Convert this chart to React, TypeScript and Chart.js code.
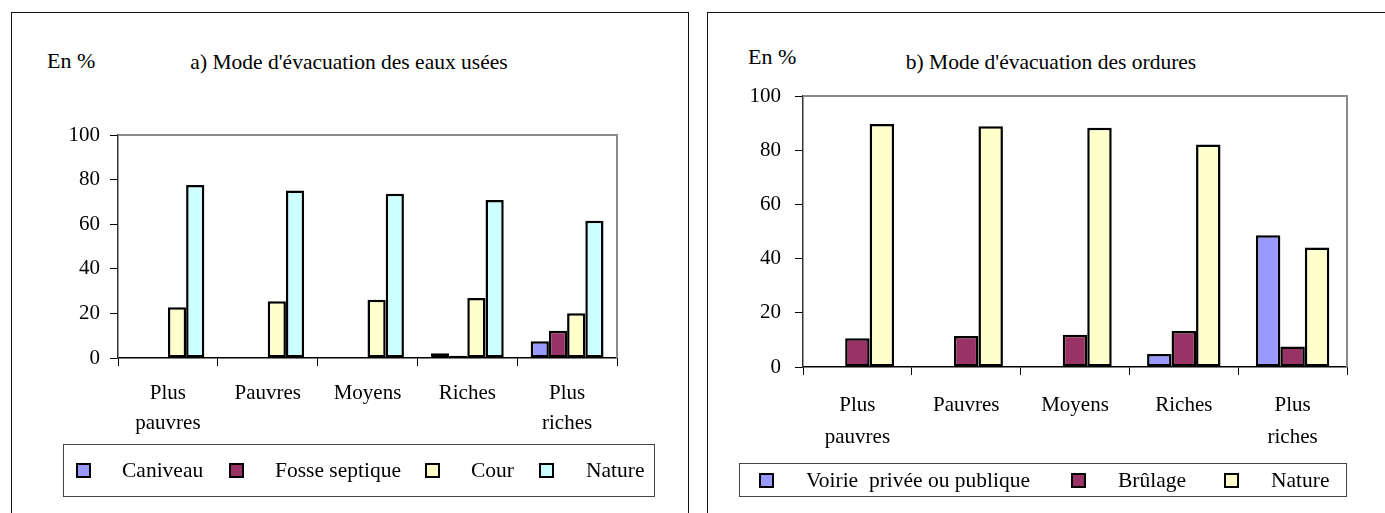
import React, { useEffect, useRef } from "react";
import { Chart, registerables } from "chart.js";

Chart.register(...registerables);

// ---------- data ----------
const categories: (string | string[])[] = [["Plus", "pauvres"], "Pauvres", "Moyens", "Riches", ["Plus", "riches"]];

// a) Mode d'évacuation des eaux usées (en %)
const caniveau = [0, 0.3, 0.3, 2.1, 7.5];
const fosseSeptique = [0, 0, 0.3, 1.0, 12.2];
const cour = [22.8, 25.4, 26.1, 26.9, 20.1];
const natureEaux = [77.6, 75.1, 73.6, 70.9, 61.5];

// b) Mode d'évacuation des ordures (en %)
const voirie = [0, 0, 0.3, 4.8, 48.6];
const brulage = [10.6, 11.4, 11.9, 13.3, 7.6];
const natureOrdures = [89.7, 88.8, 88.3, 82.1, 44.1];

const yMin = 0;
const yMax = 100;
const yStep = 20;

const titleA = "a) Mode d'évacuation des eaux usées";
const titleB = "b) Mode d'évacuation des ordures";
const unitLabel = "En %";

const BLUE = "#9999FF";
const MAROON = "#993366";
const YELLOW = "#FFFFCC";
const CYAN = "#CCFFFF";

const seriesA = [
  { label: "Caniveau", data: caniveau, color: BLUE },
  { label: "Fosse septique", data: fosseSeptique, color: MAROON },
  { label: "Cour", data: cour, color: YELLOW },
  { label: "Nature", data: natureEaux, color: CYAN },
];
const seriesB = [
  { label: "Voirie  privée ou publique", data: voirie, color: BLUE },
  { label: "Brûlage", data: brulage, color: MAROON },
  { label: "Nature", data: natureOrdures, color: YELLOW },
];

const FONT = "'Liberation Serif', 'Times New Roman', serif";

const plotFrame = {
  id: "plotFrame",
  afterDraw(chart: any) {
    const { ctx, chartArea } = chart;
    ctx.save();
    ctx.strokeStyle = "#8a8a8a";
    ctx.lineWidth = 2;
    ctx.beginPath();
    ctx.moveTo(chartArea.left, chartArea.top);
    ctx.lineTo(chartArea.right, chartArea.top);
    ctx.lineTo(chartArea.right, chartArea.bottom);
    ctx.stroke();
    ctx.restore();
  },
};

type Series = { label: string; data: number[]; color: string };

function BarChart(props: {
  series: Series[];
  width: number;
  height: number;
  left: number;
  padding: { left: number; right: number; top: number; bottom: number };
  catPct: number;
  yPad: number;
  xPad: number;
  xLineHeight: number;
}) {
  const ref = useRef<HTMLCanvasElement | null>(null);
  useEffect(() => {
    if (!ref.current) return;
    const chart = new Chart(ref.current, {
      type: "bar",
      data: {
        labels: categories,
        datasets: props.series.map((s) => ({
          label: s.label,
          data: s.data,
          backgroundColor: s.color,
          borderColor: "#000",
          borderWidth: 2.5,
          borderSkipped: false,
          categoryPercentage: props.catPct,
          barPercentage: 1,
        })),
      },
      options: {
        responsive: false,
        animation: false,
        devicePixelRatio: 1,
        layout: { padding: props.padding },
        plugins: { legend: { display: false }, title: { display: false }, tooltip: { enabled: false } },
        scales: {
          x: {
            grid: { display: true, drawOnChartArea: false, drawTicks: true, tickLength: 8, color: "#000", lineWidth: 1, offset: true },
            border: { display: true, color: "#000", width: 1.5 },
            ticks: {
              color: "#000",
              font: { family: FONT, size: 21, lineHeight: props.xLineHeight },
              padding: props.xPad,
              maxRotation: 0,
              autoSkip: false,
            },
            afterFit: (s: any) => {
              s.height = 85;
            },
          },
          y: {
            min: yMin,
            max: yMax,
            grid: { display: true, drawOnChartArea: false, drawTicks: true, tickLength: 8, color: "#000", lineWidth: 1 },
            border: { display: true, color: "#333", width: 1.5 },
            ticks: { stepSize: yStep, color: "#000", font: { family: FONT, size: 21 }, padding: props.yPad },
            afterFit: (s: any) => {
              s.width = 60;
            },
          },
        },
      },
      plugins: [plotFrame],
    });
    return () => chart.destroy();
  }, []);
  return (
    <canvas
      ref={ref}
      width={props.width}
      height={props.height}
      style={{ position: "absolute", left: props.left, top: 0, width: props.width, height: props.height }}
    />
  );
}

function Legend(props: {
  series: Series[];
  box: { left: number; top: number; width: number; height: number };
  markers: number[];
  texts: number[];
  cy: number;
}) {
  return (
    <>
      <div
        style={{
          position: "absolute",
          left: props.box.left,
          top: props.box.top,
          width: props.box.width,
          height: props.box.height,
          border: "1.5px solid #444",
          boxSizing: "border-box",
        }}
      />
      {props.series.map((s, i) => (
        <React.Fragment key={s.label}>
          <div
            style={{
              position: "absolute",
              left: props.markers[i],
              top: props.cy - 7.5,
              width: 15,
              height: 15,
              background: s.color,
              border: "2px solid #000",
              boxSizing: "border-box",
            }}
          />
          <div
            style={{
              position: "absolute",
              left: props.texts[i],
              top: props.cy,
              transform: "translateY(-50%)",
              fontFamily: FONT,
              fontSize: 21.5,
              lineHeight: "24px",
              whiteSpace: "pre",
              color: "#000",
            }}
          >
            {s.label}
          </div>
        </React.Fragment>
      ))}
    </>
  );
}

function Label(props: { text: string; x: number; y: number; size: number; center?: boolean }) {
  return (
    <div
      style={{
        position: "absolute",
        left: props.x,
        top: props.y,
        transform: props.center ? "translate(-50%, -50%)" : "translateY(-50%)",
        fontFamily: FONT,
        fontSize: props.size,
        lineHeight: "1",
        whiteSpace: "pre",
        color: "#000",
      }}
    >
      {props.text}
    </div>
  );
}

export default function App() {
  return (
    <div
      style={{
        position: "fixed",
        left: 0,
        top: 0,
        width: 1385,
        height: 513,
        overflow: "hidden",
        background: "#fff",
      }}
    >
      {/* panel frames */}
      <div style={{ position: "absolute", left: 11, top: 12, width: 678, height: 620, border: "1.5px solid #111", boxSizing: "border-box" }} />
      <div style={{ position: "absolute", left: 707, top: 12, width: 700, height: 620, border: "1.5px solid #111", boxSizing: "border-box" }} />

      <Label text={unitLabel} x={47} y={61} size={22} />
      <Label text={titleA} x={349} y={63} size={21.5} center />
      <Label text={unitLabel} x={748} y={57} size={22} />
      <Label text={titleB} x={1051} y={63} size={21.5} center />

      <BarChart
        series={seriesA}
        width={690}
        height={513}
        left={0}
        padding={{ left: 58, right: 73, top: 135, bottom: 70 }}
        catPct={0.73}
        yPad={10}
        xPad={12}
        xLineHeight={30 / 21}
      />
      <BarChart
        series={seriesB}
        width={695}
        height={513}
        left={690}
        padding={{ left: 53, right: 38, top: 96, bottom: 61 }}
        catPct={0.675}
        yPad={14}
        xPad={14}
        xLineHeight={32 / 21}
      />

      <Legend
        series={seriesA}
        box={{ left: 63, top: 444, width: 592, height: 53 }}
        markers={[76, 229, 425, 539]}
        texts={[122, 275, 471, 586]}
        cy={470}
      />
      <Legend
        series={seriesB}
        box={{ left: 739, top: 463, width: 608, height: 34 }}
        markers={[759, 1071, 1224]}
        texts={[806, 1118, 1271]}
        cy={480}
      />
    </div>
  );
}
